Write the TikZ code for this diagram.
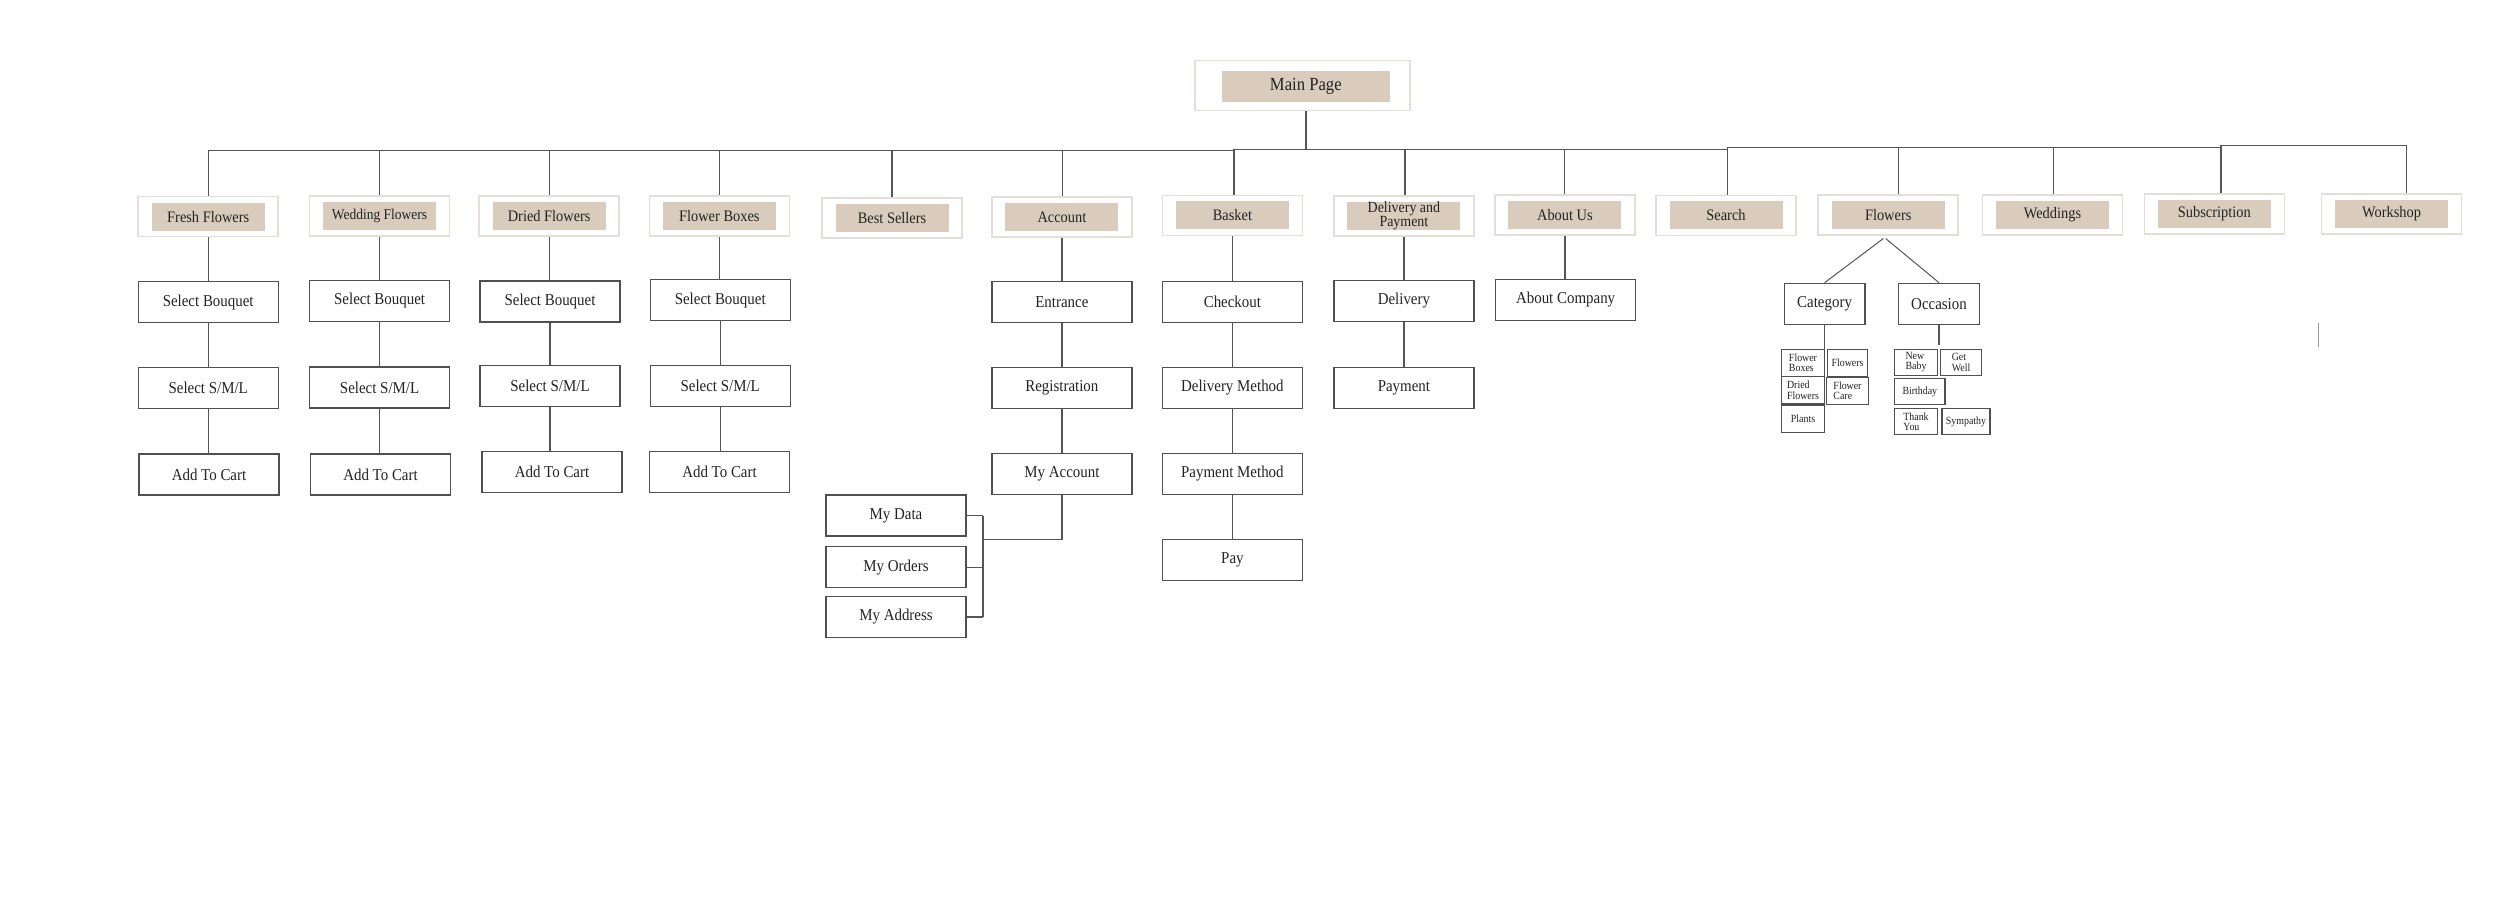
\documentclass[tikz,border=0pt]{standalone}
\usepackage{fontspec}
\setmainfont[FakeStretch=0.9]{Liberation Serif}
\usetikzlibrary{calc}
\definecolor{beige}{RGB}{218,204,188}
\definecolor{outerc}{RGB}{228,223,214}
\definecolor{linec}{RGB}{85,85,85}
\definecolor{boxc}{RGB}{80,80,80}
\definecolor{txt}{RGB}{35,35,35}
\tikzset{
  outerbox/.style={draw=outerc, line width=1.5pt, fill=white, minimum width=140pt, minimum height=40pt, inner sep=0pt},
  innerbox/.style={fill=beige, minimum width=113pt, minimum height=28pt, inner sep=0pt, font=\fontsize{16}{16}\selectfont, text=txt},
  pagebox/.style={draw=boxc, line width=1.2pt, fill=white, minimum width=140pt, minimum height=41pt, inner sep=0pt, font=\fontsize{16.6}{17}\selectfont, text=txt},
  smallbox/.style={draw=boxc, line width=1.1pt, fill=white, inner sep=0pt, font=\fontsize{11}{10.5}\selectfont, text=txt, align=left},
  conn/.style={draw=linec, line width=1.2pt},
}
\begin{document}
\begin{tikzpicture}[x=1pt,y=-1pt]
\fill[white] (0,0) rectangle (2500,922);
\useasboundingbox (0,0) rectangle (2500,922);

% Main page
\node[outerbox, minimum width=215pt, minimum height=50pt] (main) at (1302.5,85.7) {};
\node[innerbox, minimum width=168pt, minimum height=31.3pt, font=\fontsize{18.5}{19}\selectfont] (main-t) at (1305.8,86.3) {Main Page};

% Top level
\node[outerbox] (fresh) at (208.2,216.7) {};
\node[innerbox] (fresh-t) at (fresh) {Fresh Flowers};
\node[outerbox] (wedding) at (379.6,216.2) {};
\node[innerbox, font=\fontsize{15}{15}\selectfont] (wedding-t) at (wedding) {Wedding Flowers};
\node[outerbox] (dried) at (549.2,216.2) {};
\node[innerbox] (dried-t) at (dried) {Dried Flowers};
\node[outerbox] (fboxes) at (719.3,216.2) {};
\node[innerbox] (fboxes-t) at (fboxes) {Flower Boxes};
\node[outerbox] (best) at (892,218) {};
\node[innerbox] (best-t) at (best) {Best Sellers};
\node[outerbox] (account) at (1061.9,217) {};
\node[innerbox] (account-t) at (account) {Account};
\node[outerbox] (basket) at (1232.4,215.3) {};
\node[innerbox] (basket-t) at (basket) {Basket};
\node[outerbox] (delpay) at (1403.9,216.2) {};
\node[innerbox, align=center, font=\fontsize{15.5}{14}\selectfont] (delpay-t) at (delpay) {Delivery and\\Payment};
\node[outerbox] (about) at (1564.9,214.8) {};
\node[innerbox] (about-t) at (about) {About Us};
\node[outerbox] (search) at (1726,215.3) {};
\node[innerbox] (search-t) at (search) {Search};
\node[outerbox] (flowers) at (1888.2,214.8) {};
\node[innerbox] (flowers-t) at (flowers) {Flowers};
\node[outerbox] (weddings) at (2052.5,214.8) {};
\node[innerbox] (weddings-t) at (weddings) {Weddings};
\node[outerbox] (subscr) at (2214.3,213.8) {};
\node[innerbox] (subscr-t) at (subscr) {Subscription};
\node[outerbox] (workshop) at (2391.6,213.8) {};
\node[innerbox] (workshop-t) at (workshop) {Workshop};

% Bus coordinates
\coordinate (bfresh) at (208.4,150.7);
\coordinate (bwed) at (379.8,150.7);
\coordinate (bdried) at (549.5,150.7);
\coordinate (bfb) at (719.6,150.7);
\coordinate (bbest) at (892,150.7);
\coordinate (bacc) at (1062.5,150.7);
\coordinate (bbask) at (1234,149.3);
\coordinate (bmain) at (1306,149.3);
\coordinate (bdp) at (1405,149.3);
\coordinate (babout) at (1564.7,149.3);
\coordinate (bsearch) at (1727.7,147.3);
\coordinate (bflow) at (1898.6,147.3);
\coordinate (bwedd) at (2053.5,147.3);
\coordinate (bsub) at (2221,145.3);
\coordinate (bwork) at (2406.7,145.3);

\draw[conn] (bfresh) -- (1234,150.7) -- (bbask) -- (1727.7,149.3) -- (bsearch) -- (2221,147.3) -- (bsub) -- (bwork);
\draw[conn] (main.south -| bmain) -- (bmain);
\foreach \b/\n in {bfresh/fresh, bwed/wedding, bdried/dried, bfb/fboxes, bbest/best, bacc/account, bbask/basket, bdp/delpay, babout/about, bsearch/search, bflow/flowers, bwedd/weddings, bsub/subscr, bwork/workshop}
  \draw[conn] (\b) -- (\b |- \n.north);

% Columns
\node[pagebox] (ff1) at (208.2,302.3) {Select Bouquet};
\node[pagebox] (ff2) at (208.2,388.3) {Select S/M/L};
\node[pagebox] (ff3) at (209,474.5) {Add To Cart};
\node[pagebox] (wf1) at (379.6,300.7) {Select Bouquet};
\node[pagebox] (wf2) at (379.6,387.5) {Select S/M/L};
\node[pagebox] (wf3) at (380.5,474.5) {Add To Cart};
\node[pagebox] (df1) at (550,301.5) {Select Bouquet};
\node[pagebox] (df2) at (550,386) {Select S/M/L};
\node[pagebox] (df3) at (552,472) {Add To Cart};
\node[pagebox] (fb1) at (720.2,300) {Select Bouquet};
\node[pagebox] (fb2) at (720.2,386) {Select S/M/L};
\node[pagebox] (fb3) at (719.5,472) {Add To Cart};
\node[pagebox] (ac1) at (1061.9,302) {Entrance};
\node[pagebox] (ac2) at (1061.9,387.8) {Registration};
\node[pagebox] (ac3) at (1061.9,473.8) {My Account};
\node[pagebox] (md1) at (896,515.5) {My Data};
\node[pagebox] (md2) at (896,567.3) {My Orders};
\node[pagebox] (md3) at (896,617) {My Address};
\node[pagebox] (bk1) at (1232.4,302) {Checkout};
\node[pagebox] (bk2) at (1232.4,387.8) {Delivery Method};
\node[pagebox] (bk3) at (1232.4,474) {Payment Method};
\node[pagebox] (bk4) at (1232.4,560) {Pay};
\node[pagebox] (dp1) at (1403.9,301) {Delivery};
\node[pagebox] (dp2) at (1403.9,387.8) {Payment};
\node[pagebox] (ab1) at (1565.6,299.8) {About Company};

\foreach \a/\b in {fresh/ff1, ff1/ff2, ff2/ff3, wedding/wf1, wf1/wf2, wf2/wf3, dried/df1, df1/df2, df2/df3, fboxes/fb1, fb1/fb2, fb2/fb3, account/ac1, ac1/ac2, ac2/ac3, basket/bk1, bk1/bk2, bk2/bk3, bk3/bk4, delpay/dp1, dp1/dp2, about/ab1}
  \draw[conn] (\a.south) -- (\a.south |- \b.north);

% Account branches
\coordinate (acj) at (983,539.3);
\draw[conn] (ac3.south) |- (acj);
\draw[conn] (acj |- md1.east) -- (acj |- md3.east);
\foreach \m in {md1,md2,md3}
  \draw[conn] (\m.east) -- (\m.east -| acj);

% Flowers subtree
\node[pagebox, minimum width=80.7pt] (category) at (1824.6,303.8) {Category};
\node[pagebox, minimum width=80.6pt] (occasion) at (1939,303.8) {Occasion};
\draw[conn, line width=1pt] ($(flowers.south)+(-4.9,3)$) -- (category.north);
\draw[conn, line width=1pt] ($(flowers.south)+(-2.5,3)$) -- (occasion.north);

\node[smallbox, minimum width=42.6pt, minimum height=26.7pt] (sfb) at (1803,362.7) {Flower\\Boxes};
\node[smallbox, minimum width=40.4pt, minimum height=26.7pt] (sfl) at (1847.5,362.7) {Flowers};
\node[smallbox, minimum width=42.6pt, minimum height=27.3pt] (sdf) at (1803,390.3) {Dried\\Flowers};
\node[smallbox, minimum width=41.6pt, minimum height=26.7pt] (sfc) at (1847.5,390.7) {Flower\\Care};
\node[smallbox, minimum width=42.6pt, minimum height=26.6pt] (spl) at (1803,419) {Plants};
\node[smallbox, minimum width=42.6pt, minimum height=26pt] (onb) at (1916,362.3) {New\\Baby};
\node[smallbox, minimum width=41.4pt, minimum height=26pt] (ogw) at (1961,362.3) {Get\\Well};
\node[smallbox, minimum width=50.3pt, minimum height=26pt] (obd) at (1919.8,391.7) {Birthday};
\node[smallbox, minimum width=42.6pt, minimum height=26pt] (oty) at (1916,421.7) {Thank\\You};
\node[smallbox, minimum width=48pt, minimum height=26pt] (osy) at (1966,421.7) {Sympathy};

\draw[conn] (category.south) -- (category.south |- sfb.north);
\coordinate (occend) at (1939,345.3);
\draw[conn] (occasion.south) -- (occend);

% stray mark
\coordinate (s1) at (2318.6,322.7);
\coordinate (s2) at (2318.6,346.7);
\draw[draw=gray!80, line width=1pt] (s1) -- (s2);
\end{tikzpicture}
\end{document}
